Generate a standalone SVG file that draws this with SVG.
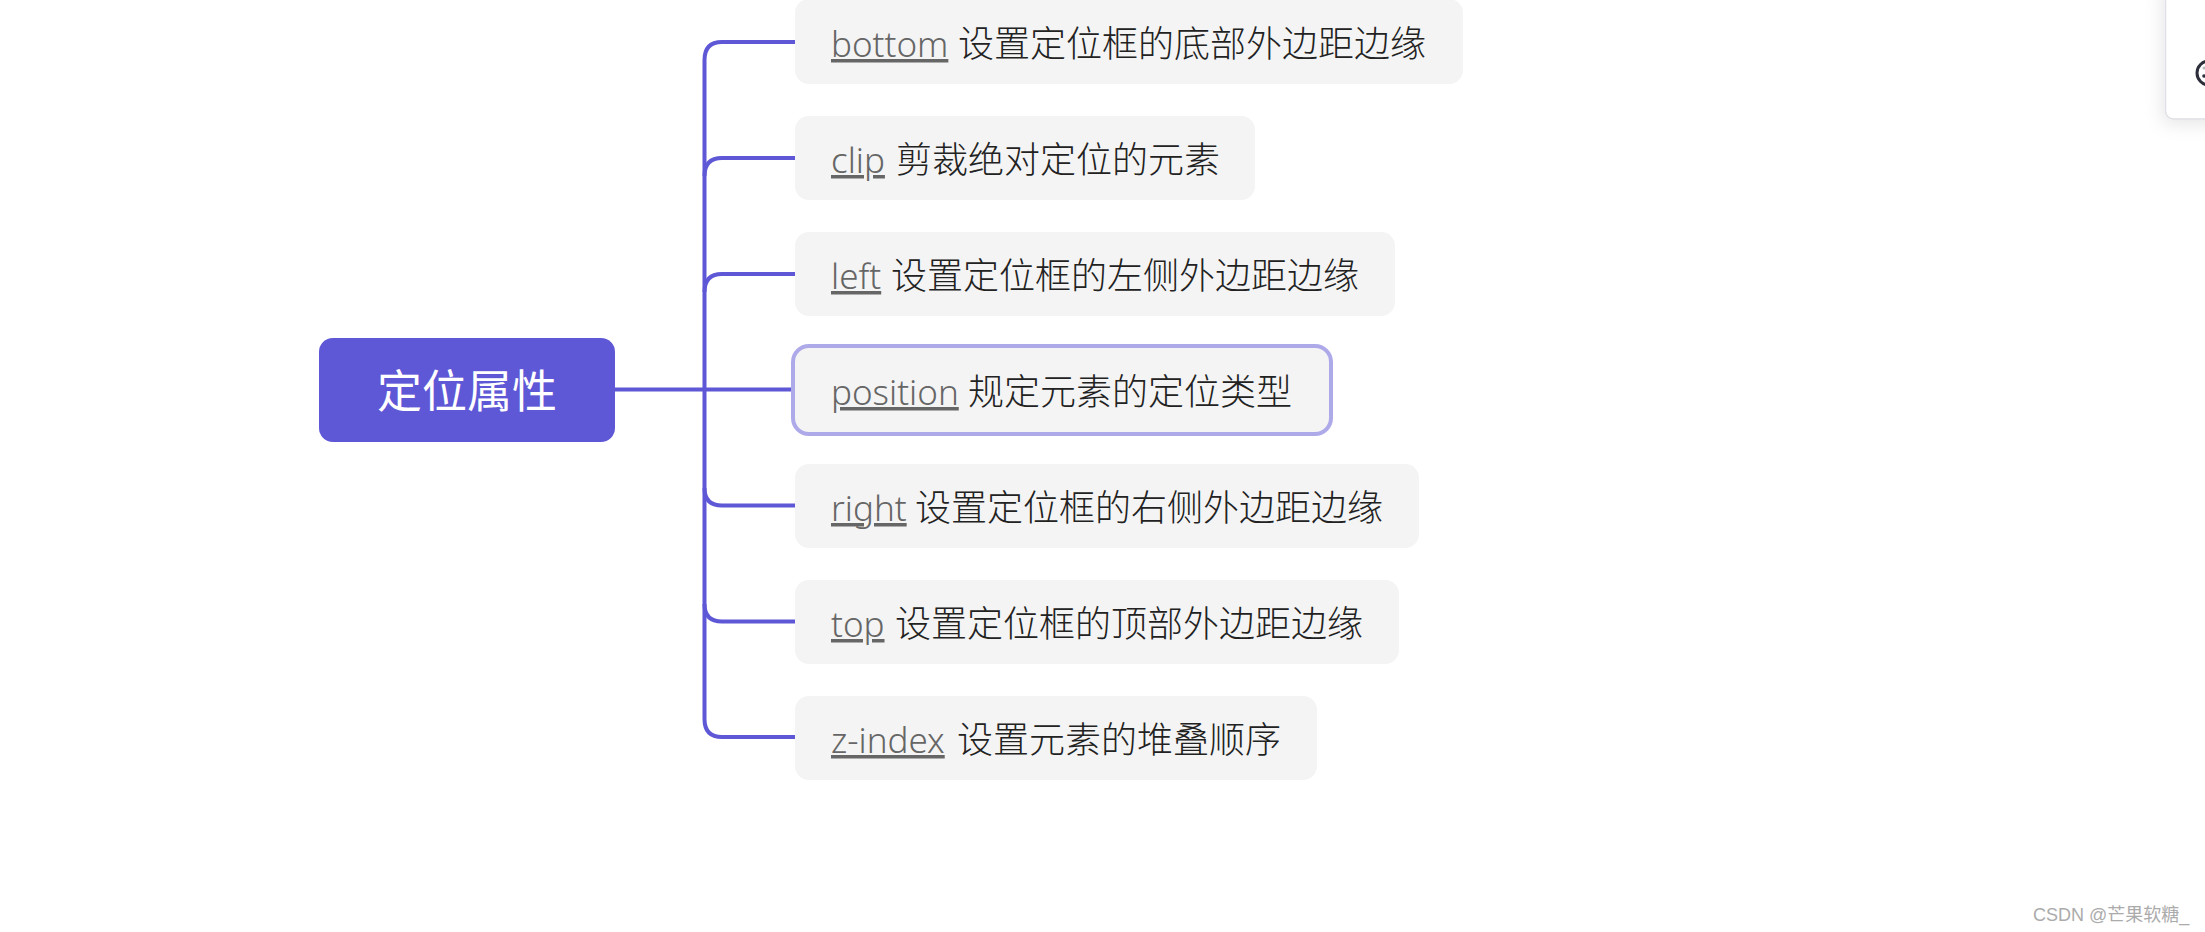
<svg xmlns="http://www.w3.org/2000/svg" width="2205" height="932" viewBox="0 0 2205 932">
  <style>
    .link { fill: none; stroke: #5e57d6; stroke-width: 4; }
    .leaf { fill: #f4f4f4; }
    .label { font-family: "Noto Sans CJK SC", "Noto Sans", sans-serif; font-size: 36px; font-weight: 300; fill: #222222; }
    .term { font-family: "Noto Sans", "Open Sans", sans-serif; font-size: 35px; font-weight: 300; fill: #666666; text-decoration: underline; }
    .root-text { font-family: "Noto Sans CJK SC", sans-serif; font-size: 45px; font-weight: 400; fill: #ffffff; text-anchor: middle; }
    .mark { font-family: "Liberation Sans", "Noto Sans CJK SC", sans-serif; font-size: 18px; fill: #ababab; }
  </style>
  <defs>
    <filter id="panel-shadow" x="-60%" y="-60%" width="220%" height="220%">
      <feDropShadow dx="-2" dy="4" stdDeviation="9" flood-color="#000000" flood-opacity="0.10"/>
    </filter>
  </defs>
  <rect width="2205" height="932" fill="#ffffff"/>

  <g id="connectors">
    <path class="link" d="M615 389.500H792"/>
    <path class="link" d="M795 42H722Q704.500 42 704.500 60V719Q704.500 737 722 737H795"/>
    <path class="link" d="M795 158H722Q704.500 158 704.500 176"/>
    <path class="link" d="M795 274H722Q704.500 274 704.500 292"/>
    <path class="link" d="M795 505.500H722Q704.500 505.500 704.500 488"/>
    <path class="link" d="M795 621.500H722Q704.500 621.500 704.500 604"/>
  </g>

  <g id="root">
    <rect x="319" y="338" width="296" height="104" rx="14" fill="#5e57d6"/>
    <text class="root-text" x="467" y="408">定位属性</text>
  </g>

  <g id="node-bottom">
    <rect class="leaf" x="795" y="-1" width="668" height="85" rx="14"/>
    <text class="label" y="57"><tspan class="term" x="831">bottom</tspan><tspan x="958">设置定位框的底部外边距边缘</tspan></text>
  </g>
  <g id="node-clip">
    <rect class="leaf" x="795" y="116" width="460" height="84" rx="14"/>
    <text class="label" y="173"><tspan class="term" x="831">clip</tspan><tspan x="896">剪裁绝对定位的元素</tspan></text>
  </g>
  <g id="node-left">
    <rect class="leaf" x="795" y="232" width="600" height="84" rx="14"/>
    <text class="label" y="289"><tspan class="term" x="831">left</tspan><tspan x="891">设置定位框的左侧外边距边缘</tspan></text>
  </g>
  <g id="node-position">
    <rect x="793" y="346" width="538" height="88" rx="16" fill="#f4f4f4" stroke="#aeaae9" stroke-width="4"/>
    <text class="label" y="405"><tspan class="term" x="831">position</tspan><tspan x="968">规定元素的定位类型</tspan></text>
  </g>
  <g id="node-right">
    <rect class="leaf" x="795" y="464" width="624" height="84" rx="14"/>
    <text class="label" y="521"><tspan class="term" x="831">right</tspan><tspan x="915">设置定位框的右侧外边距边缘</tspan></text>
  </g>
  <g id="node-top">
    <rect class="leaf" x="795" y="580" width="604" height="84" rx="14"/>
    <text class="label" y="637"><tspan class="term" x="831">top</tspan><tspan x="895">设置定位框的顶部外边距边缘</tspan></text>
  </g>
  <g id="node-z-index">
    <rect class="leaf" x="795" y="696" width="522" height="84" rx="14"/>
    <text class="label" y="753"><tspan class="term" x="831">z-index</tspan><tspan x="957">设置元素的堆叠顺序</tspan></text>
  </g>

  <!-- Toolbar panel at the top right corner -->
  <g id="panel">
    <rect x="2165.500" y="-20" width="60" height="139" rx="8" fill="#ffffff" stroke="#dfdfe5" stroke-width="1.500" filter="url(#panel-shadow)"/>
    <circle cx="2209" cy="73" r="12" fill="none" stroke="#2c2f3a" stroke-width="3"/>
    <circle cx="2204" cy="76" r="1.800" fill="#2c2f3a"/>
    <circle cx="2204" cy="68" r="1.500" fill="#b8bac0"/>
  </g>

  <text class="mark" x="2033" y="921">CSDN @芒果软糖_</text>
</svg>
